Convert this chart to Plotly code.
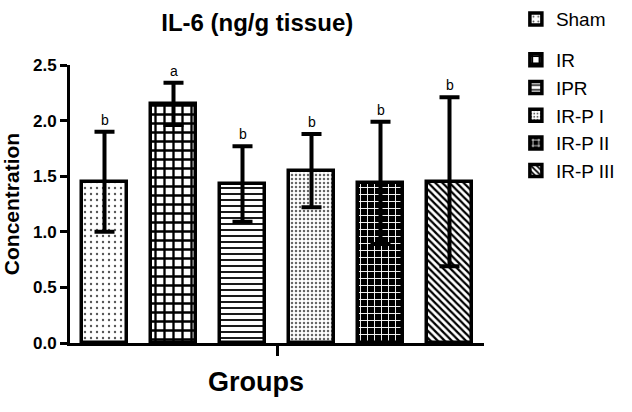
import plotly.graph_objects as go

groups = ["Sham", "IR", "IPR", "IR-P I", "IR-P II", "IR-P III"]
means = [1.45, 2.15, 1.43, 1.55, 1.44, 1.45]
errors = [0.45, 0.19, 0.34, 0.33, 0.55, 0.76]
letters = ["b", "a", "b", "b", "b", "b"]
y_ticks = [0.0, 0.5, 1.0, 1.5, 2.0, 2.5]
y_tick_labels = ["0.0", "0.5", "1.0", "1.5", "2.0", "2.5"]

patterns = [
    dict(shape=".", size=6, solidity=0.12, fgcolor="#555555", bgcolor="white"),
    dict(shape="+", size=9, solidity=0.45, fgcolor="black", bgcolor="white"),
    dict(shape="-", size=6, solidity=0.3, fgcolor="black", bgcolor="white"),
    dict(shape=".", size=4, solidity=0.3, fgcolor="#666666", bgcolor="white"),
    dict(shape="+", size=7, solidity=0.25, fgcolor="white", bgcolor="black"),
    dict(shape="\\", size=5, solidity=0.45, fgcolor="black", bgcolor="white"),
]

FONT = "Liberation Sans, Arial, sans-serif"

fig = go.Figure()
for i, g in enumerate(groups):
    fig.add_trace(go.Bar(
        x=[i], y=[means[i]], name=g,
        width=0.65,
        legendgroup="g0" if i == 0 else "g1",
        marker=dict(color="black" if i == 4 else "white",
                    line=dict(color="black", width=3.5),
                    pattern=dict(fillmode="replace", **patterns[i])),
        error_y=dict(type="data", array=[errors[i]], visible=True,
                     color="black", thickness=4, width=10),
    ))
    fig.add_annotation(x=i, y=means[i] + errors[i], text=letters[i],
                       showarrow=False, yshift=12,
                       font=dict(size=14, color="black", family=FONT))

fig.add_annotation(xref="paper", yref="paper", x=0.449, y=-0.2,
                   text="<b>Groups</b>", showarrow=False,
                   font=dict(size=27, color="black", family=FONT))

fig.update_layout(
    width=632, height=412,
    margin=dict(l=70, r=148, t=65, b=69, autoexpand=False),
    plot_bgcolor="white", paper_bgcolor="white",
    font=dict(family=FONT, color="black"),
    title=dict(text="<b>IL-6 (ng/g tissue)</b>", x=0.407, xanchor="center",
               y=0.944, yanchor="middle", font=dict(size=24)),
    showlegend=True,
    legend=dict(x=1.077, y=1.233, xanchor="left", yanchor="top",
                font=dict(size=19), tracegroupgap=13,
                itemwidth=30, bgcolor="rgba(0,0,0,0)"),
    bargap=0,
)
fig.update_xaxes(range=[-0.5, 5.5], tickvals=[2.5], ticktext=[""],
                 ticks="outside", ticklen=10, tickwidth=2.5, tickcolor="black",
                 showline=True, linewidth=3, linecolor="black",
                 showgrid=False, zeroline=False, automargin=False)
fig.update_yaxes(range=[0, 2.5], tickvals=y_ticks, ticktext=y_tick_labels,
                 ticks="outside", ticklen=7, tickwidth=3, tickcolor="black",
                 tickfont=dict(size=17, family=FONT, weight="bold"),
                 showline=True, linewidth=3, linecolor="black",
                 showgrid=False, zeroline=False, automargin=False,
                 title=dict(text="<b>Concentration</b>", font=dict(size=21),
                            standoff=8))

# remove the page's default 8px body margin so the figure fills the window
fig.write_html("out.html", config={"displayModeBar": False},
               post_script="document.body.style.margin='0';")
